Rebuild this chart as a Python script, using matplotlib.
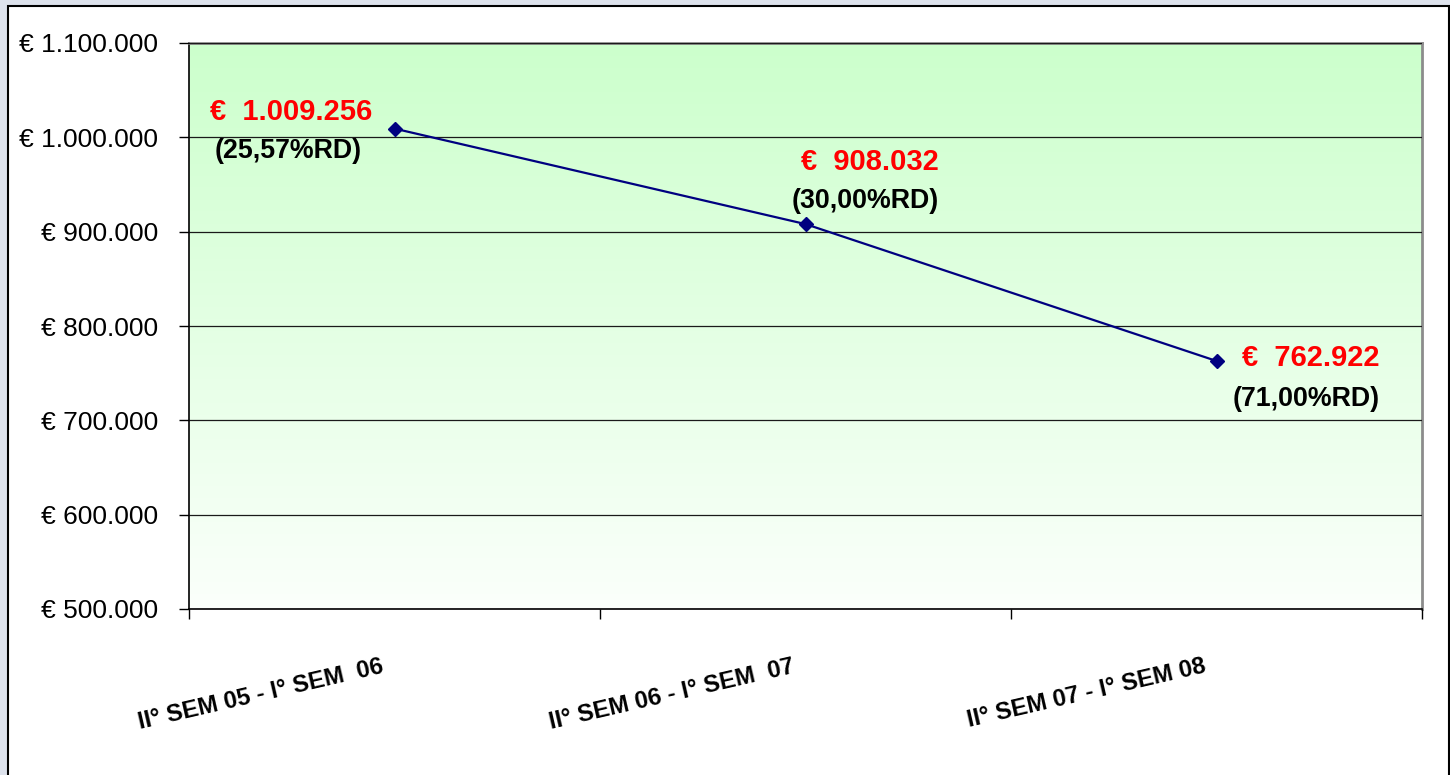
import matplotlib.pyplot as plt
import matplotlib.transforms as mtransforms
from matplotlib.patches import Rectangle
from matplotlib.ticker import FuncFormatter, FixedLocator
import numpy as np

# Data
categories = ["II° SEM 05 - I° SEM  06", "II° SEM 06 - I° SEM  07", "II° SEM 07 - I° SEM 08"]
values = [1009256, 908032, 762922]
value_labels = ["€  1.009.256", "€  908.032", "€  762.922"]
pct_labels = ["(25,57%RD)", "(30,00%RD)", "(71,00%RD)"]

# label offsets in pixels (red, black)
red_offsets = [(-103, 17), (64, 62), (94, 3)]
black_offsets = [(-106, -22), (60, 23), (90, -38)]

plt.rcParams['font.family'] = ['Liberation Sans', 'DejaVu Sans']

fig = plt.figure(figsize=(14.5, 7.75), dpi=100)
fig.patch.set_facecolor('#dde2ec')

# white chart area with black frame
fig.patches.append(Rectangle((8 / 1450, -0.01), 1441 / 1450, 1 - 6 / 775 + 0.01,
                             transform=fig.transFigure, facecolor='white',
                             edgecolor='black', linewidth=1.5, zorder=-10))

ax = fig.add_axes([189 / 1450, (775 - 609) / 775, 1233 / 1450, 566 / 775])
ax.set_facecolor('none')

# gradient background
ymin, ymax = 500000, 1100000
grad = np.linspace(0, 1, 256).reshape(-1, 1)
top = np.array([0.80, 1.0, 0.80])
bot = np.array([0.985, 1.0, 0.985])
img = top[None, None, :] * (1 - grad[:, :, None]) + bot[None, None, :] * grad[:, :, None]
ax.imshow(img, extent=[-0.5, 2.5, ymin, ymax], origin='upper', aspect='auto', zorder=0)

x = np.arange(len(categories))
ax.plot(x, values, color='#000080', linewidth=1.6, marker='D', markersize=7,
        markerfacecolor='#000080', markeredgecolor='#000080', zorder=3)

for i in range(len(values)):
    ax.annotate(value_labels[i], (x[i], values[i]), xytext=red_offsets[i],
                textcoords='offset pixels', ha='center', va='center',
                color='#ff0000', fontsize=21, fontweight='bold', zorder=4)
    ax.annotate(pct_labels[i], (x[i], values[i]), xytext=black_offsets[i],
                textcoords='offset pixels', ha='center', va='center',
                color='black', fontsize=19.3, fontweight='bold', zorder=4)

ax.set_xlim(-0.5, 2.5)
ax.set_ylim(ymin, ymax)
ax.set_yticks(np.arange(500000, 1100001, 100000))
ax.yaxis.set_major_formatter(FuncFormatter(lambda v, p: "€ " + f"{v:,.0f}".replace(",", ".")))
ax.yaxis.grid(True, color='#1a1a1a', linewidth=0.9, zorder=1)
ax.set_axisbelow(False)
ax.tick_params(axis='y', direction='out', length=7, width=1, labelsize=19, pad=15, colors='black')

ax.xaxis.set_major_locator(FixedLocator([-0.5, 0.5, 1.5, 2.5]))
ax.xaxis.set_minor_locator(FixedLocator(list(x)))
ax.set_xticklabels([], minor=False)
ax.set_xticklabels(categories, minor=True, rotation=13, ha='right',
                   rotation_mode='anchor', fontsize=17.3, fontweight='bold')
ax.tick_params(axis='x', which='major', direction='out', length=7, width=1)
ax.tick_params(axis='x', which='minor', length=0, pad=33)
shift = mtransforms.ScaledTranslation(-14 / 100, 0, fig.dpi_scale_trans)
for lab in ax.get_xticklabels(minor=True):
    lab.set_transform(lab.get_transform() + shift)

for side in ['top', 'right']:
    ax.spines[side].set_color('#8c8c8c')
    ax.spines[side].set_linewidth(2)
for side in ['left', 'bottom']:
    ax.spines[side].set_color('black')
    ax.spines[side].set_linewidth(1.2)

fig.savefig('out.png', dpi=100, facecolor=fig.get_facecolor())
